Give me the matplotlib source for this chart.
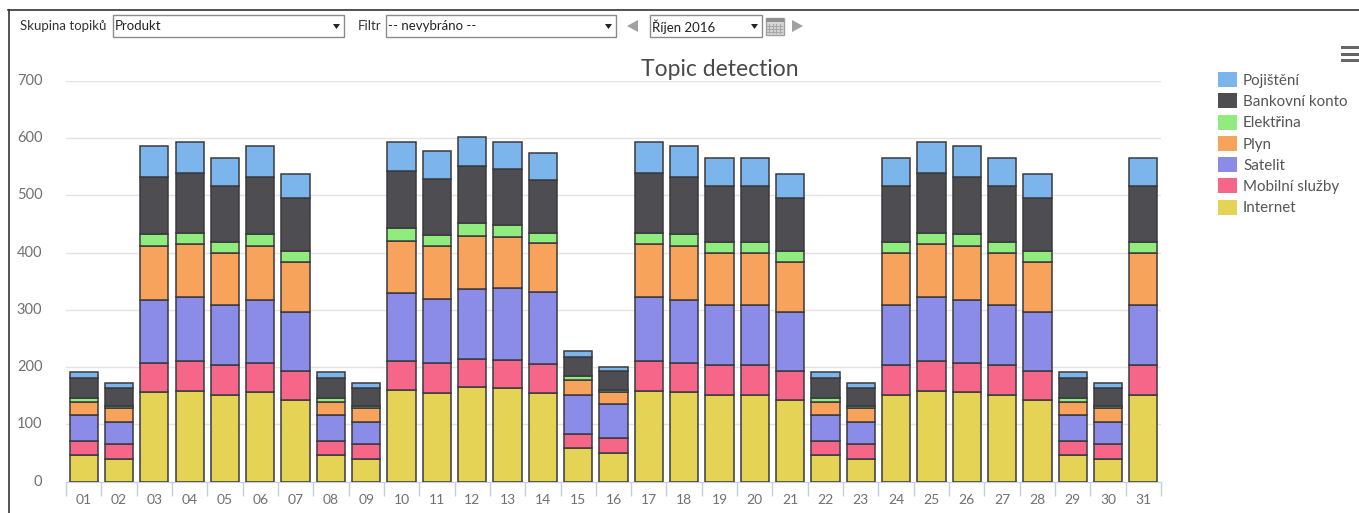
import matplotlib
matplotlib.use("Agg")
import matplotlib.pyplot as plt
from matplotlib.patches import Rectangle, Polygon
import numpy as np

plt.rcParams['font.family'] = ['Lato', 'DejaVu Sans']

days = [f"{d:02d}" for d in range(1, 32)]
series_names = ["Internet", "Mobilní služby", "Satelit", "Plyn", "Elektřina", "Bankovní konto", "Pojištění"]
colors = ["#e4d354", "#f56688", "#8a8ce8", "#f7a35c", "#90ed7d", "#4d4d52", "#7cb5ec"]

internet = [46, 39, 157, 159, 151, 157, 142, 46, 39, 161, 155, 165, 163, 155, 58, 50, 159, 157, 151, 151, 142, 46, 39, 151, 159, 157, 151, 142, 46, 39, 151]
mobilni = [25, 27, 51, 51, 52, 51, 52, 25, 27, 50, 52, 50, 50, 51, 25, 27, 51, 51, 52, 52, 52, 25, 27, 52, 51, 51, 52, 52, 25, 27, 52]
satelit = [45, 38, 110, 113, 105, 110, 103, 45, 38, 118, 113, 121, 125, 126, 68, 58, 113, 110, 105, 105, 103, 45, 38, 105, 113, 110, 105, 103, 45, 38, 105]
plyn = [24, 24, 93, 93, 91, 93, 87, 24, 24, 92, 91, 93, 90, 85, 27, 21, 93, 93, 91, 91, 87, 24, 24, 91, 93, 93, 91, 87, 24, 24, 91]
elektrina = [7, 5, 22, 19, 19, 22, 19, 7, 5, 22, 20, 23, 21, 18, 6, 5, 19, 22, 19, 19, 19, 7, 5, 19, 19, 22, 19, 19, 7, 5, 19]
bankovni = [35, 30, 100, 105, 98, 100, 92, 35, 30, 100, 97, 99, 98, 92, 34, 33, 105, 100, 98, 98, 92, 35, 30, 98, 105, 100, 98, 92, 35, 30, 98]
pojisteni = [10, 9, 53, 53, 49, 53, 43, 10, 9, 51, 50, 51, 47, 47, 11, 6, 53, 53, 49, 49, 43, 10, 9, 49, 53, 53, 49, 43, 10, 9, 49]
series = [internet, mobilni, satelit, plyn, elektrina, bankovni, pojisteni]
yticks = [0, 100, 200, 300, 400, 500, 600, 700]

W, H = 1359, 513
fig = plt.figure(figsize=(W / 100, H / 100), dpi=100, facecolor="white")

# page-pixel overlay for the surrounding controls
ui = fig.add_axes([0, 0, 1, 1], zorder=0)
ui.set_xlim(0, W); ui.set_ylim(H, 0); ui.axis("off")

# plot area
ax_top, ax_bot = 81.0, 481.7
ax = fig.add_axes([66 / W, 1 - ax_bot / H, 1095 / W, (ax_bot - ax_top) / H], zorder=1)
ax.patch.set_alpha(0)
bottom = np.zeros(len(days))
x = np.arange(len(days))
for vals, c in zip(series, colors):
    v = np.array(vals, float)
    ax.bar(x, v, 0.8, bottom=bottom, color=c, edgecolor="#3a3a3e", linewidth=1.1, zorder=3)
    bottom += v
ax.set_xlim(-0.5, 30.5)
ax.set_ylim(0, 700)
ax.set_yticks(yticks)
ax.set_yticklabels([str(t) for t in yticks], fontsize=10.5, color="#707070", va="center")
for lab in ax.get_yticklabels():
    lab.set_y(lab.get_position()[1])
ax.set_xticks(x)
ax.set_xticklabels(days, fontsize=10, color="#707070")
ax.tick_params(axis="x", length=0, pad=9)
ax.tick_params(axis="y", length=0, pad=17)
ax.set_xticks(np.arange(-0.5, 31, 1), minor=True)
ax.tick_params(axis="x", which="minor", length=10, width=1, color="#c0d0e0")
ax.grid(axis="y", color="#e3e3e3", linewidth=1, zorder=0)
ax.set_axisbelow(True)
for s in ["top", "right", "left"]:
    ax.spines[s].set_visible(False)
ax.spines["bottom"].set_color("#c0d0e0")

ui.text(720, 70, "Topic detection", fontsize=16.5, color="#4a4a4a", ha="center", va="center", zorder=5)

# frame
ui.plot([8, W], [10, 10], color="#333333", lw=1.2)
ui.plot([8.5, 8.5], [10, H], color="#333333", lw=1.2)

# controls
def select(x0, x1, label):
    ui.add_patch(Rectangle((x0, 15), x1 - x0, 22, fc="white", ec="#8a8a8a", lw=1))
    ui.text(x0 + 2, 26.5, label, fontsize=9.5, color="#222222", va="center")
    ui.add_patch(Polygon([[x1 - 11, 24], [x1 - 4, 24], [x1 - 7.5, 29]], fc="#222222", ec="none"))

ui.text(20, 26, "Skupina topiků", fontsize=9.5, color="#333333", va="center")
select(113, 344, "Produkt")
ui.text(358, 26, "Filtr", fontsize=9.5, color="#333333", va="center")
select(386, 616, "-- nevybráno --")
select(650, 762, "Říjen 2016")
ui.add_patch(Polygon([[638, 20], [638, 32], [627, 26]], fc="#a0a0a0", ec="none"))
ui.add_patch(Polygon([[792, 20], [792, 32], [803, 26]], fc="#a0a0a0", ec="none"))
ui.add_patch(Rectangle((765.5, 18), 18, 17, fc="#d8d8d8", ec="#a0a0a0", lw=1))
ui.add_patch(Rectangle((765.5, 18), 18, 4, fc="#909090", ec="none"))
for gx in [769, 772.5, 776, 779.5]:
    ui.plot([gx, gx], [24, 33], color="#a8a8a8", lw=0.8)
for gy in [26, 29, 32]:
    ui.plot([767, 782], [gy, gy], color="#a8a8a8", lw=0.8)

# hamburger menu
for my in [47.5, 54, 60.5]:
    ui.add_patch(Rectangle((1341, my - 1.5), 19, 3.4, fc="#666666", ec="none"))

# legend
ly = 79.5
for name, c in zip(series_names[::-1], colors[::-1]):
    ui.add_patch(Rectangle((1218, ly - 7.5), 19, 15, fc=c, ec="none"))
    ui.text(1243, ly + 1.3, name, fontsize=10.9, color="#555555", va="center")
    ly += 21.25

fig.savefig("out.png", dpi=100)
